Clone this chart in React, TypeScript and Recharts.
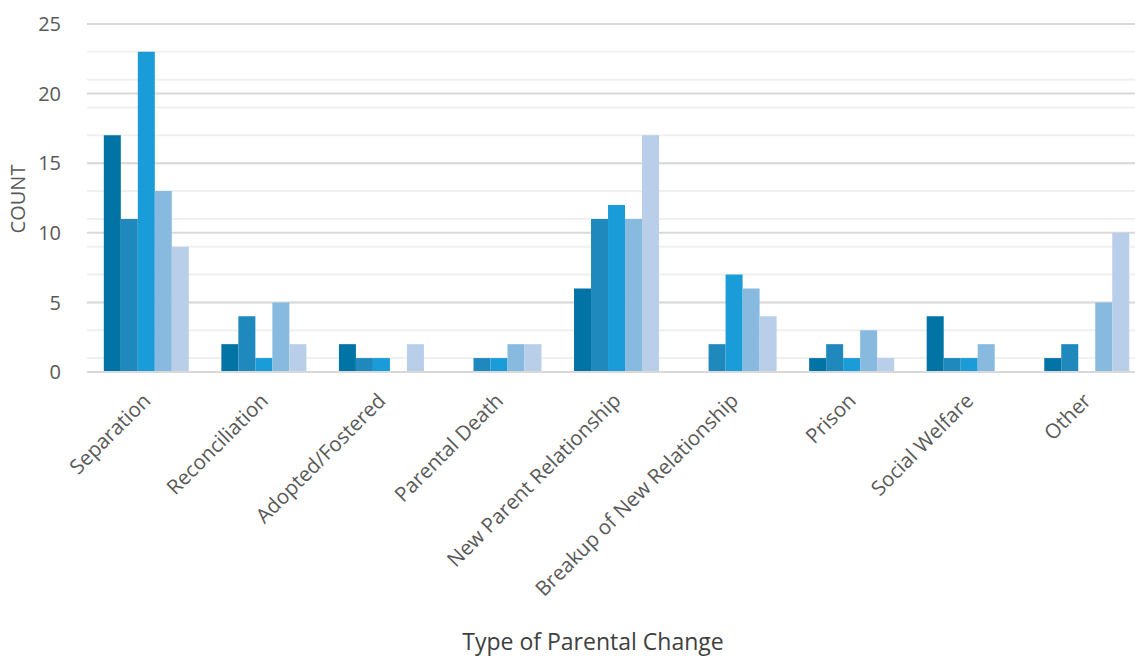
import React from "react";
import { BarChart, Bar, XAxis, YAxis, CartesianGrid, Label } from "recharts";

const categories = [
  "Separation",
  "Reconciliation",
  "Adopted/Fostered",
  "Parental Death",
  "New Parent Relationship",
  "Breakup of New Relationship",
  "Prison",
  "Social Welfare",
  "Other",
];

// five count series per category
const seriesA = [17, 2, 2, 0, 6, 0, 1, 4, 1];
const seriesB = [11, 4, 1, 1, 11, 2, 2, 1, 2];
const seriesC = [23, 1, 1, 1, 12, 7, 1, 1, 0];
const seriesD = [13, 5, 0, 2, 11, 6, 3, 2, 5];
const seriesE = [9, 2, 2, 2, 17, 4, 1, 0, 10];

const yTicks = [0, 5, 10, 15, 20, 25];
const minorLines = Array.from({ length: 26 }, (_, i) => i);

const COLORS = ["#0173A5", "#1F88BD", "#1A9CD8", "#88BAE0", "#B9CEE9"];
const KEYS = ["a", "b", "c", "d", "e"];

const data = categories.map((name, i) => ({
  name,
  a: seriesA[i],
  b: seriesB[i],
  c: seriesC[i],
  d: seriesD[i],
  e: seriesE[i],
}));

const FONT = "'Open Sans', sans-serif";

const AngledTick = (props: any) => {
  const { x, y, payload } = props;
  return (
    <g transform={`translate(${x + 6},${y + 22})`}>
      <text
        textAnchor="end"
        transform="rotate(-45)"
        fill="#595959"
        fontSize={20.5}
        fontFamily={FONT}
      >
        {payload.value}
      </text>
    </g>
  );
};

const YTitle = () => (
  <text
    x={0}
    y={0}
    transform="translate(25,199) rotate(-90)"
    textAnchor="middle"
    fill="#595959"
    fontSize={20}
    fontFamily={FONT}
  >
    COUNT
  </text>
);

const XTitle = () => (
  <text
    x={593}
    y={650}
    textAnchor="middle"
    fill="#404040"
    fontSize={23}
    fontFamily={FONT}
  >
    Type of Parental Change
  </text>
);

const App = () => {
  return (
    <div
      style={{
        position: "absolute",
        left: 0,
        top: 0,
        width: 1135,
        height: 657,
        overflow: "hidden",
        background: "#fff",
      }}
    >
      <BarChart
        width={1150}
        height={657}
        data={data}
        margin={{ top: 24, right: 5, left: 0, bottom: 0 }}
        barCategoryGap="14.3%"
        barGap={0}
      >
        <CartesianGrid
          vertical={false}
          horizontalValues={minorLines}
          stroke="#F0F0F0"
          strokeWidth={2}
        />
        <CartesianGrid
          vertical={false}
          horizontalValues={yTicks}
          stroke="#D9D9D9"
          strokeWidth={2}
        />
        <XAxis
          dataKey="name"
          interval={0}
          height={285}
          tick={<AngledTick />}
          tickLine={false}
          axisLine={{ stroke: "#D9D9D9", strokeWidth: 2 }}
        >
          <Label content={<XTitle />} />
        </XAxis>
        <YAxis
          width={87}
          domain={[0, 25]}
          ticks={yTicks}
          tickLine={false}
          axisLine={false}
          tick={{ fill: "#595959", fontSize: 20, fontFamily: FONT }}
          tickMargin={20}
        >
          <Label content={<YTitle />} />
        </YAxis>
        {KEYS.map((k, i) => (
          <Bar key={k} dataKey={k} fill={COLORS[i]} isAnimationActive={false} />
        ))}
      </BarChart>
    </div>
  );
};

export default App;
